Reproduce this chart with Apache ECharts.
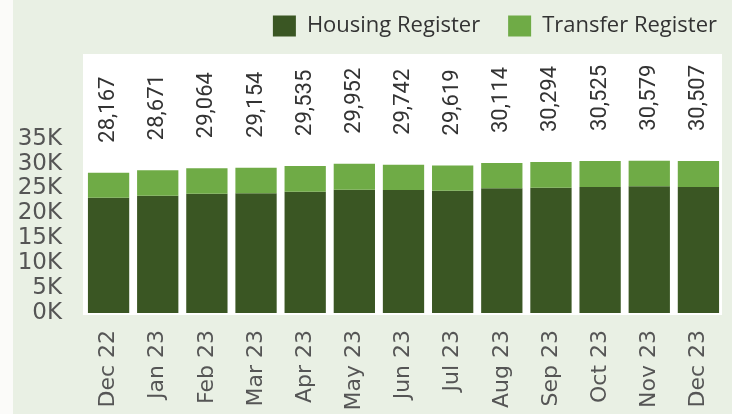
<!DOCTYPE html>
<html>
<head>
<meta charset="utf-8">
<script src="https://cdn.jsdelivr.net/npm/echarts@6/dist/echarts.min.js"></script>
<style>
  html, body { margin: 0; padding: 0; }
  #chart { width: 732px; height: 414px; }
</style>
</head>
<body>
<div id="chart"></div>
<script>
// months on the x axis
var months = ['Dec 22', 'Jan 23', 'Feb 23', 'Mar 23', 'Apr 23', 'May 23', 'Jun 23',
  'Jul 23', 'Aug 23', 'Sep 23', 'Oct 23', 'Nov 23', 'Dec 23']
var housingRegister = [23150, 23550, 23950, 24030, 24350, 24750, 24700, 24560, 25040, 25160, 25300, 25440, 25300]
var transferRegister = [5017, 5121, 5114, 5124, 5185, 5202, 5042, 5059, 5074, 5134, 5225, 5139, 5207]
// totals shown above the bars
var totals = [28167, 28671, 29064, 29154, 29535, 29952, 29742, 29619, 30114, 30294, 30525, 30579, 30507]

var myChart = echarts.init(document.getElementById('chart'))
var option = {
  backgroundColor: '#e9f0e4',
  animation: false,
  graphic: [
    { type: 'rect', left: 0, top: 0, shape: { width: 13, height: 414 }, style: { fill: '#fbfbf9' }, z: -10 },
    { type: 'rect', left: 83, top: 54, shape: { width: 639, height: 261 }, style: { fill: '#ffffff' }, z: -10 }
  ],
  legend: {
    right: 10,
    top: 10,
    icon: 'rect',
    itemWidth: 23,
    itemHeight: 21,
    itemGap: 28,
    textStyle: { fontFamily: 'Open Sans', fontSize: 22, color: '#333', padding: [0, 0, 0, 6] },
    data: ['Housing Register', 'Transfer Register']
  },
  grid: { left: 84, right: 9, top: 54, bottom: 101 },
  xAxis: {
    type: 'category',
    data: months,
    axisLine: { show: false },
    axisTick: { show: false },
    axisLabel: {
      rotate: 90,
      margin: 17,
      fontFamily: 'DejaVu Sans',
      fontSize: 22,
      color: '#555'
    }
  },
  yAxis: {
    type: 'value',
    min: 0,
    max: 52000,
    interval: 5000,
    splitLine: { show: false },
    axisLabel: {
      margin: 22,
      fontFamily: 'DejaVu Sans',
      fontSize: 23,
      color: '#555',
      formatter: function (v) {
        if (v > 35000) return ''
        return (v / 1000) + 'K'
      }
    }
  },
  series: [
    {
      name: 'Housing Register',
      type: 'bar',
      stack: 'total',
      barCategoryGap: '16%',
      itemStyle: { color: '#3a5623' },
      data: housingRegister
    },
    {
      name: 'Transfer Register',
      type: 'bar',
      stack: 'total',
      itemStyle: { color: '#6fab46' },
      label: {
        show: true,
        position: 'top',
        rotate: 90,
        align: 'left',
        verticalAlign: 'middle',
        distance: 30,
        fontFamily: 'Roboto',
        fontSize: 22,
        color: '#333',
        formatter: function (p) {
          return totals[p.dataIndex].toLocaleString('en-US')
        }
      },
      data: transferRegister
    }
  ]
}
myChart.setOption(option)
window.addEventListener('resize', () => { myChart.resize() })
</script>
</body>
</html>
